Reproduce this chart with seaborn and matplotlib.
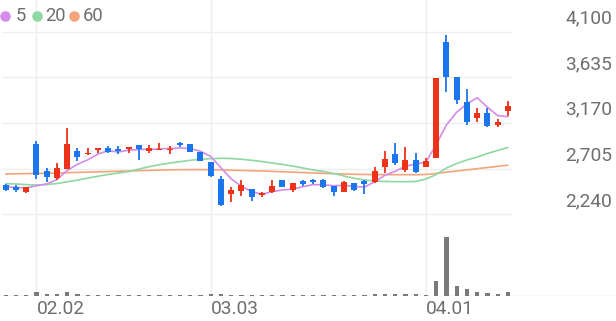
import numpy as np
import pandas as pd
import matplotlib
matplotlib.use("Agg")
import matplotlib.pyplot as plt
import seaborn as sns
from matplotlib.lines import Line2D
from matplotlib import transforms as mtransforms

# ---------------- data ----------------
opens = [2538, 2514, 2470, 2953, 2681, 2606, 2698, 2884, 2851, 2896,
         2915, 2905, 2902, 2946, 2887, 2892, 2895, 2962, 2953, 2877,
         2769, 2599, 2446, 2477, 2494, 2433, 2470, 2589, 2487, 2582,
         2589, 2589, 2528, 2470, 2561, 2582, 2572, 2718, 2854, 2691,
         2793, 2724, 2813, 3995, 3638, 3383, 3221, 3272, 3149, 3292]
closes = [2487, 2487, 2514, 2640, 2616, 2708, 2953, 2826, 2867, 2912,
          2877, 2887, 2922, 2902, 2918, 2902, 2908, 2946, 2871, 2785,
          2633, 2334, 2487, 2538, 2419, 2459, 2528, 2515, 2555, 2548,
          2565, 2515, 2470, 2572, 2487, 2548, 2681, 2800, 2765, 2793,
          2673, 2785, 3628, 3638, 3404, 3179, 3272, 3139, 3180, 3343]
highs = [2545, 2538, 2520, 2989, 2708, 2759, 3116, 2912, 2912, 2918,
         2936, 2936, 2930, 2946, 2949, 2966, 2936, 2973, 2953, 2877,
         2769, 2630, 2521, 2589, 2494, 2470, 2589, 2589, 2555, 2589,
         2596, 2596, 2528, 2575, 2561, 2589, 2718, 2887, 2966, 2928,
         2860, 2810, 3628, 4070, 3638, 3516, 3323, 3323, 3210, 3394]
lows = [2480, 2467, 2453, 2596, 2565, 2589, 2698, 2782, 2844, 2862,
        2867, 2850, 2862, 2796, 2867, 2892, 2854, 2928, 2871, 2785,
        2623, 2324, 2368, 2426, 2378, 2412, 2453, 2515, 2470, 2528,
        2548, 2511, 2429, 2467, 2480, 2446, 2562, 2657, 2742, 2666,
        2663, 2724, 2813, 3486, 3363, 3149, 3180, 3129, 3129, 3241]
ma5 = [2520, 2513, 2508, 2530, 2549, 2593, 2686, 2749, 2794, 2853,
       2887, 2874, 2893, 2900, 2901, 2906, 2910, 2915, 2909, 2882,
       2829, 2714, 2600, 2525, 2470, 2445, 2470, 2488, 2495, 2521,
       2542, 2540, 2531, 2534, 2522, 2518, 2570, 2638, 2677, 2730,
       2750, 2772, 2950, 3150, 3280, 3365, 3427, 3330, 3245, 3234]
ma20 = [2552, 2548, 2542, 2538, 2542, 2553, 2570, 2588, 2608, 2627,
        2645, 2660, 2675, 2700, 2725, 2745, 2762, 2775, 2790, 2800,
        2806, 2810, 2808, 2800, 2790, 2777, 2762, 2747, 2731, 2711,
        2691, 2676, 2655, 2630, 2606, 2589, 2579, 2574, 2572, 2572,
        2574, 2599, 2645, 2711, 2757, 2793, 2823, 2859, 2890, 2920]
ma60 = [2650, 2652, 2654, 2656, 2658, 2660, 2663, 2666, 2669, 2672,
        2675, 2678, 2681, 2684, 2687, 2690, 2692, 2694, 2695, 2695,
        2694, 2692, 2689, 2686, 2683, 2680, 2677, 2673, 2669, 2665,
        2661, 2657, 2653, 2650, 2647, 2645, 2644, 2644, 2643, 2643,
        2643, 2645, 2656, 2668, 2680, 2692, 2704, 2716, 2728, 2740]
volumes = [80, 80, 90, 350, 120, 110, 380, 130, 90, 80,
           70, 70, 60, 70, 60, 60, 60, 60, 70, 80,
           150, 160, 90, 80, 70, 70, 70, 60, 70, 60,
           60, 60, 70, 80, 70, 80, 120, 170, 160, 150,
           140, 100, 1500, 5900, 970, 700, 380, 210, 110, 350]
y_ticks = [2240, 2705, 3170, 3635, 4100]
y_tick_labels = ["2,240", "2,705", "3,170", "3,635", "4,100"]
x_tick_pos = [3, 20, 41]
x_tick_labels = ["02.02", "03.03", "04.01"]
legend_labels = ["5", "20", "60"]

# ---------------- style ----------------
RED = "#EC3318"
BLUE = "#1B75EC"
C5 = "#D48CEA"
C20 = "#8ED8A2"
C60 = "#F6A47C"
GRID = "#EEEEEE"
TXT = "#6E6E6E"
VOL = "#7A7A7A"

sns.set_style("white")
plt.rcParams["font.family"] = ["Roboto", "DejaVu Sans"]

W, H = 616, 321
fig = plt.figure(figsize=(W / 100, H / 100), dpi=100)

# pixel-based layout
x0_px, dx_px = 5.7, 10.25
xlim = (-x0_px / dx_px, (W - x0_px) / dx_px)
price_top_px, price_bot_px = 0, 225
vol_top_px, vol_bot_px = 225, 295.5

ax = fig.add_axes([0, 1 - price_bot_px / H, 1, (price_bot_px - price_top_px) / H])
axv = fig.add_axes([0, 1 - vol_bot_px / H, 1, (vol_bot_px - vol_top_px) / H])

ppx = 10.19  # price per pixel
ax.set_ylim(4100 - (price_bot_px - 31.7) * ppx, 4100 + 31.7 * ppx)
ax.set_xlim(*xlim)

idx = np.arange(len(closes))
o = np.array(opens, float)
c = np.array(closes, float)
hi = np.array(highs, float)
lo = np.array(lows, float)
cols = np.where(c >= o, RED, BLUE)

# grid
ax.hlines(y_ticks, xmin=-0.35, xmax=49.4, color=GRID, lw=1, zorder=0)
for a in (ax, axv):
    for xp in x_tick_pos:
        a.axvline(xp, color=GRID, lw=1, zorder=0)

# moving averages
df = pd.DataFrame({"i": idx, "ma5": ma5, "ma20": ma20, "ma60": ma60})
sns.lineplot(data=df, x="i", y="ma60", ax=ax, color=C60, lw=1.2, zorder=2, legend=False)
sns.lineplot(data=df, x="i", y="ma20", ax=ax, color=C20, lw=1.2, zorder=2, legend=False)
sns.lineplot(data=df, x="i", y="ma5", ax=ax, color=C5, lw=1.2, zorder=2, legend=False)

# candles
ax.vlines(idx, lo, hi, colors=cols, lw=1.3, zorder=3)
body_b = np.minimum(o, c)
body_h = np.maximum(np.abs(c - o), 14)
ax.bar(idx, body_h, bottom=body_b, width=0.58, color=cols, linewidth=0, zorder=4)

# y labels (right, above gridlines)
lab_tr = mtransforms.offset_copy(
    mtransforms.blended_transform_factory(fig.transFigure, ax.transData),
    fig=fig, x=0, y=13.2, units="dots")
for v, s in zip(y_ticks, y_tick_labels):
    ax.text(612 / W, v, s, transform=lab_tr, ha="right", va="center",
            fontsize=13.8, color=TXT)

ax.set_xticks([])
ax.set_yticks([])
ax.set_xlabel("")
ax.set_ylabel("")
for sp in ax.spines.values():
    sp.set_visible(False)

# volume
vdf = pd.DataFrame({"i": idx, "v": volumes})
sns.barplot(data=vdf, x="i", y="v", ax=axv, native_scale=True, width=0.4,
            color=VOL, saturation=1, linewidth=0, zorder=3)
axv.set_xlim(*xlim)
axv.set_ylim(0, 7050)
axv.axhline(0, color="#DDDDDD", lw=1, zorder=1)
axv.set_yticks([])
axv.set_xticks(x_tick_pos)
axv.set_xticklabels(x_tick_labels, fontsize=13.8, color=TXT)
for t in axv.get_xticklabels():
    t.set_ha("left")
axv.tick_params(axis="x", length=0, pad=3)
axv.set_xlabel("")
axv.set_ylabel("")
for sp in axv.spines.values():
    sp.set_visible(False)

# legend
leg_x = [5, 37.3, 74]
txt_x = [15.5, 45.5, 82.5]
for lx, tx, col, lab in zip(leg_x, txt_x, [C5, C20, C60], legend_labels):
    fig.add_artist(Line2D([lx / W], [1 - 15.7 / H], marker="o", ms=6.6,
                          color=col, mec=col, lw=0, transform=fig.transFigure))
    fig.text(tx / W, 1 - 15.7 / H, lab, ha="left", va="center",
             fontsize=13.2, color=TXT)

fig.savefig("out.png", dpi=100)
